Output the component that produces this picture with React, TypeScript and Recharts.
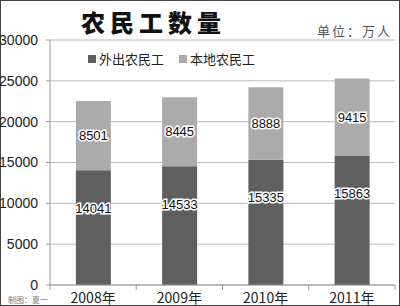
import React from 'react';
import { BarChart, Bar, XAxis, YAxis, CartesianGrid, LabelList } from 'recharts';

const years = ['2008年', '2009年', '2010年', '2011年'];
const migrant = [14041, 14533, 15335, 15863];
const local = [8501, 8445, 8888, 9415];
const yTicks = [0, 5000, 10000, 15000, 20000, 25000, 30000];

const data = years.map((year, i) => ({ year, migrant: migrant[i], local: local[i] }));

const W = 400;
const H = 306;
const LEFT = 50;
const RIGHT = 5;
const BAND = (W - LEFT - RIGHT) / years.length;

const XTick = (props: any) => {
  const { x, y, payload, index } = props;
  return (
    <g>
      <line x1={x - BAND / 2} x2={x - BAND / 2} y1={y - 8} y2={y - 3} stroke="#999" />
      {index === years.length - 1 && (
        <line x1={x + BAND / 2} x2={x + BAND / 2} y1={y - 8} y2={y - 3} stroke="#999" />
      )}
      <text x={x} y={y + 10} textAnchor="middle" fontSize={14} fill="#222" fontFamily="'Noto Sans CJK SC', sans-serif">
        {payload.value}
      </text>
    </g>
  );
};

const labelStyle = {
  fill: '#111',
  stroke: '#fff',
  strokeWidth: 3,
  paintOrder: 'stroke',
  fontSize: 13,
  fontFamily: "'Liberation Sans', Arial, sans-serif",
} as any;

export default function App() {
  return (
    <div
      style={{
        position: 'absolute',
        left: 0,
        top: 0,
        width: W,
        height: H,
        background: '#fff',
        boxSizing: 'border-box',
        border: '1px solid #444',
        fontFamily: "'Liberation Sans', Arial, sans-serif",
      }}
    >
      <div
        style={{
          position: 'absolute',
          left: 80,
          top: 6,
          fontSize: 24,
          fontWeight: 900,
          letterSpacing: 5,
          fontFamily: "'Noto Sans CJK SC', sans-serif",
          color: '#111',
          lineHeight: '30px',
        }}
      >
        农民工数量
      </div>
      <div
        style={{
          position: 'absolute',
          left: 316,
          top: 20,
          fontSize: 13,
          letterSpacing: 2,
          fontFamily: "'Noto Sans CJK SC', sans-serif",
          color: '#555',
          lineHeight: '20px',
        }}
      >
        单位：万人
      </div>
      <div
        style={{
          position: 'absolute',
          left: 87,
          top: 49,
          fontSize: 13,
          fontFamily: "'Noto Sans CJK SC', sans-serif",
          color: '#222',
          lineHeight: '18px',
          display: 'flex',
          alignItems: 'center',
          zIndex: 2,
        }}
      >
        <span style={{ width: 8, height: 8, background: '#5f5f5f', marginRight: 3 }} />
        <span style={{ marginRight: 15 }}>外出农民工</span>
        <span style={{ width: 8, height: 8, background: '#ababab', marginRight: 3 }} />
        <span>本地农民工</span>
      </div>
      <div
        style={{
          position: 'absolute',
          left: 7,
          top: 294,
          fontSize: 8,
          fontFamily: "'Noto Sans CJK SC', sans-serif",
          color: '#777',
          lineHeight: '10px',
          zIndex: 2,
        }}
      >
        制图：夏一
      </div>
      <div style={{ position: 'absolute', left: -1, top: -1 }}>
        <BarChart
          width={W}
          height={H}
          data={data}
          margin={{ top: 40, right: RIGHT, bottom: 0, left: 0 }}
          barCategoryGap="30%"
        >
          <CartesianGrid horizontal vertical={false} stroke="#bbb" />
          <XAxis
            dataKey="year"
            height={21}
            axisLine={{ stroke: '#999' }}
            tickLine={false}
            tick={<XTick />}
            interval={0}
          />
          <YAxis
            width={LEFT}
            domain={[0, 30000]}
            ticks={yTicks}
            axisLine={{ stroke: '#999' }}
            tickLine={{ stroke: '#999' }}
            tickSize={4}
            tickMargin={8}
            tick={{ fontSize: 14, fill: '#222' }}
            interval={0}
          />
          <Bar dataKey="migrant" stackId="a" fill="#5f5f5f" isAnimationActive={false}>
            <LabelList dataKey="migrant" position="insideTop" offset={33} style={labelStyle} />
          </Bar>
          <Bar dataKey="local" stackId="a" fill="#ababab" isAnimationActive={false}>
            <LabelList dataKey="local" position="center" style={labelStyle} />
          </Bar>
        </BarChart>
      </div>
    </div>
  );
}
